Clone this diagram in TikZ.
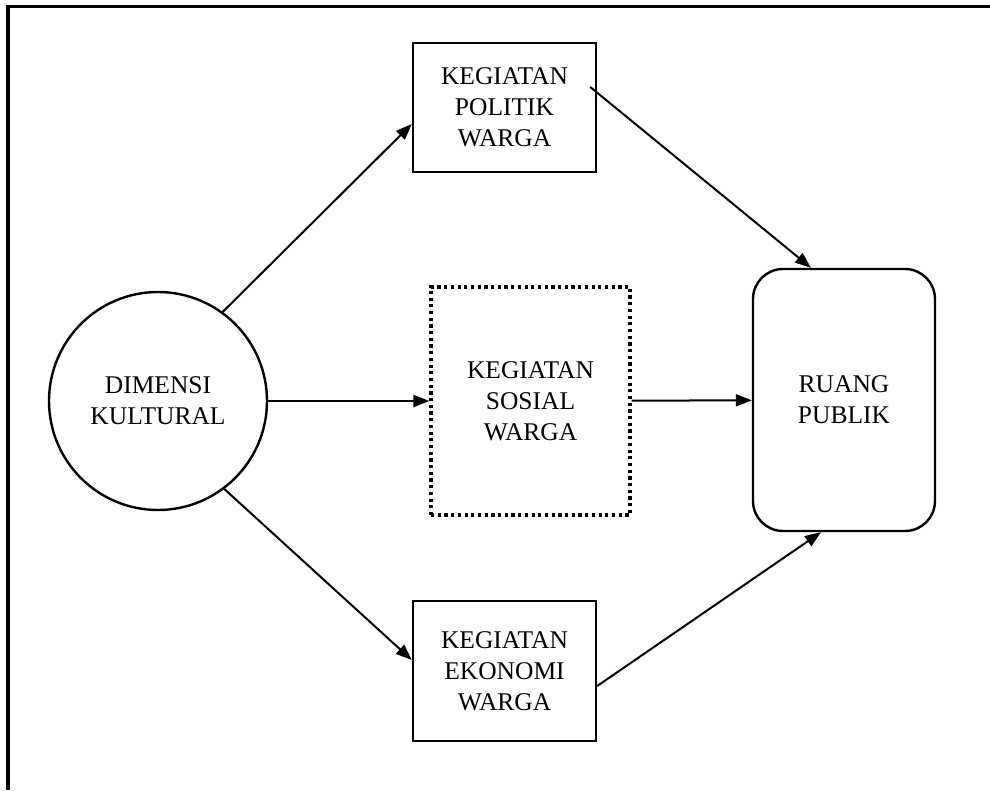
\documentclass[tikz,border=0pt]{standalone}
\usepackage{fontspec}
\setmainfont{Liberation Serif}
\usepackage{tikz}
\usetikzlibrary{arrows.meta,shapes,calc}

\begin{document}
\begin{tikzpicture}[x = 1pt, y = -1pt,
  txt/.style = {align = center, font = \fontsize{25.5}{31}\selectfont},
  box/.style = {txt, draw, line width = 2.4pt, inner sep = 0pt},
  arr/.style = {-{Triangle[length = 16pt, width = 12pt]}, line width = 2pt}]
\useasboundingbox (0,0) rectangle (990,790);
\draw[line width = 3.2pt] (8,790) -- (8,6.5) -- (990,6.5);
\node[box, circle, minimum size = 218pt] (dim) at (158,401) {DIMENSI\\KULTURAL};
\node[box, minimum width = 183pt, minimum height = 129pt] (polit) at (504.5,107.5) {KEGIATAN\\POLITIK\\WARGA};
\node[box, line width = 3.2pt, dash pattern = on 3.2pt off 3.5pt, minimum width = 199pt, minimum height = 228pt] (sos) at (530.5,401) {KEGIATAN\\SOSIAL\\WARGA};
\node[box, minimum width = 183pt, minimum height = 140pt] (ekon) at (504.5,671) {KEGIATAN\\EKONOMI\\WARGA};
\node[box, rounded corners = 30pt, minimum width = 182pt, minimum height = 262pt] (ruang) at (844,400) {RUANG\\PUBLIK};
\draw[arr] (dim.54) -- ([yshift = -16.5pt]polit.west);
\draw[arr] (dim) -- (sos);
\draw[arr] (dim.-53) -- ([yshift = 11pt]ekon.west);
\draw[arr] ([xshift = -7pt, yshift = 20.5pt]polit.east) -- ([xshift = -33pt]ruang.north);
\draw[arr] (sos) -- (ruang);
\draw[arr] ([yshift = -15pt]ekon.east) -- ([xshift = -23pt]ruang.south);
\end{tikzpicture}
\end{document}
